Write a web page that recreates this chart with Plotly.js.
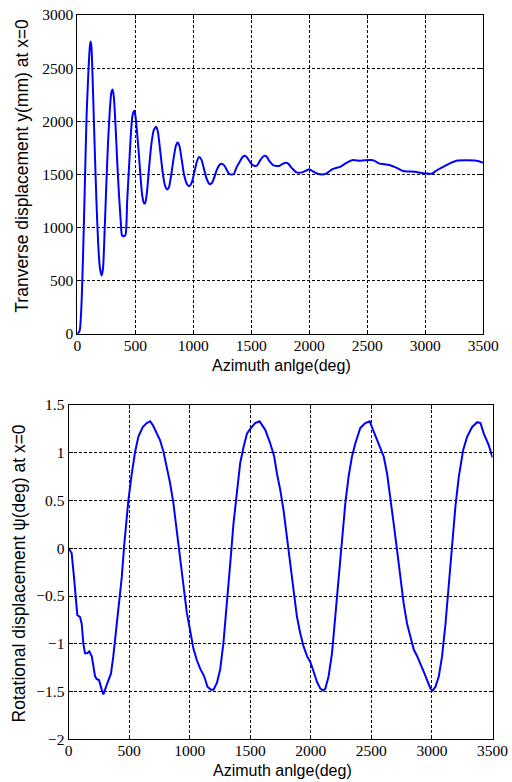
<!DOCTYPE html>
<html>
<head>
<meta charset="utf-8">
<script src="https://cdn.plot.ly/plotly-3.0.1.min.js"></script>
<style>
html,body{margin:0;padding:0;background:#fff;}
#chart{width:512px;height:782px;}
</style>
</head>
<body>
<div id="chart"></div>
<script>
// Top panel: transverse displacement y(mm) at x=0
const azimuthTop = [0,20,35,50,65,80,95,108,115,122,135,150,165,180,195,210,222,235,250,265,280,295,305,315,330,345,360,375,385,400,415,430,445,460,475,490,500,515,530,545,560,575,585,600,620,640,660,680,695,715,735,755,775,790,810,830,850,865,880,900,920,945,965,985,1005,1030,1050,1070,1090,1115,1140,1160,1180,1205,1230,1250,1270,1290,1310,1330,1350,1370,1400,1430,1450,1470,1500,1530,1550,1580,1610,1630,1660,1690,1740,1770,1800,1820,1850,1890,1940,1970,2000,2030,2080,2140,2200,2270,2320,2370,2440,2530,2560,2600,2690,2750,2810,2910,2980,3060,3100,3160,3220,3270,3440,3500];
const transverse = [0,30,250,750,1400,2050,2450,2700,2750,2700,2300,1750,1250,850,620,550,620,950,1400,1800,2100,2280,2300,2230,1950,1600,1300,1050,930,920,930,1250,1550,1850,2050,2100,2060,1900,1700,1480,1300,1230,1230,1330,1580,1800,1920,1950,1900,1720,1530,1400,1360,1380,1500,1650,1770,1800,1770,1640,1500,1410,1390,1420,1500,1620,1665,1640,1560,1460,1410,1420,1470,1550,1595,1600,1580,1540,1505,1500,1505,1560,1620,1670,1675,1650,1600,1580,1585,1640,1675,1670,1620,1585,1580,1600,1610,1600,1560,1520,1520,1535,1550,1530,1505,1505,1550,1575,1610,1635,1630,1636,1630,1605,1590,1565,1533,1526,1512,1510,1540,1575,1610,1630,1630,1612];

// Bottom panel: rotational displacement psi(deg) at x=0
const azimuthBottom = [0,26,45,62,73,95,109,122,136,155,172,192,219,233,252,274,288,310,329,351,370,393,417,440,459,475,494,522,550,577,613,646,674,696,729,756,784,811,839,866,894,921,949,977,1004,1031,1059,1087,1120,1147,1175,1197,1225,1252,1279,1307,1335,1362,1390,1417,1445,1473,1500,1541,1577,1624,1665,1698,1721,1748,1775,1803,1831,1858,1886,1913,1941,1969,1996,2023,2051,2079,2101,2120,2147,2175,2202,2230,2258,2285,2312,2340,2368,2409,2450,2486,2514,2560,2602,2630,2657,2684,2712,2740,2767,2795,2822,2850,2878,2911,2938,2966,2988,3007,3029,3057,3084,3112,3139,3167,3194,3222,3258,3291,3332,3374,3401,3428,3469,3500];
const rotational = [0,-0.05,-0.30,-0.61,-0.70,-0.72,-0.79,-0.99,-1.10,-1.10,-1.08,-1.13,-1.34,-1.37,-1.38,-1.48,-1.53,-1.45,-1.38,-1.31,-1.13,-0.86,-0.61,-0.30,0.02,0.26,0.50,0.78,1.01,1.17,1.27,1.31,1.33,1.29,1.20,1.13,1.01,0.85,0.68,0.47,0.19,-0.09,-0.40,-0.68,-0.86,-1.05,-1.17,-1.26,-1.34,-1.45,-1.48,-1.48,-1.41,-1.27,-0.99,-0.61,-0.16,0.26,0.61,0.89,1.06,1.20,1.25,1.31,1.33,1.24,1.10,0.96,0.78,0.61,0.40,0.12,-0.16,-0.44,-0.72,-0.89,-1.03,-1.13,-1.19,-1.29,-1.40,-1.47,-1.49,-1.47,-1.34,-1.10,-0.72,-0.30,0.12,0.47,0.75,0.96,1.10,1.26,1.31,1.33,1.24,1.10,0.96,0.78,0.54,0.26,-0.02,-0.30,-0.58,-0.79,-0.93,-1.06,-1.13,-1.22,-1.31,-1.40,-1.47,-1.49,-1.45,-1.34,-1.13,-0.79,-0.37,0.05,0.44,0.75,1.03,1.17,1.27,1.32,1.31,1.20,1.08,0.95];

const xTitle = 'Azimuth anlge(deg)';
const yTitleTop = 'Tranverse displacement y(mm) at x=0';
const yTitleBottom = 'Rotational displacement \u03c8(deg) at x=0';

const W = 512, H = 782;
const tickFont = {family: '"Liberation Serif", "Times New Roman", serif', size: 15.5, color: '#000'};
const titleFont = {family: '"Liberation Sans", Arial, sans-serif', size: 16, color: '#000'};
const yTitleFont = {family: '"Liberation Sans", Arial, sans-serif', size: 17.5, color: '#000'};

function axisBase(extra) {
  return Object.assign({
    showgrid: true, gridcolor: '#000', gridwidth: 1, griddash: '3px,2px',
    showline: true, linecolor: '#000', linewidth: 1, mirror: 'ticks',
    ticks: 'inside', ticklen: 4, tickcolor: '#000', tickwidth: 1,
    tickfont: tickFont, zeroline: false, automargin: false, fixedrange: true
  }, extra);
}

const traces = [
  {x: azimuthTop, y: transverse, xaxis: 'x', yaxis: 'y', type: 'scatter', mode: 'lines',
   line: {color: '#0000ff', width: 2, shape: 'spline', smoothing: 0.6}, hoverinfo: 'skip'},
  {x: azimuthBottom, y: rotational, xaxis: 'x2', yaxis: 'y2', type: 'scatter', mode: 'lines',
   line: {color: '#0000ff', width: 2}, hoverinfo: 'skip'}
];

const layout = {
  width: W, height: H,
  margin: {l: 0, r: 0, t: 0, b: 0},
  paper_bgcolor: '#fff', plot_bgcolor: '#fff',
  showlegend: false,
  xaxis: axisBase({domain: [77.3 / W, 483.3 / W], range: [0, 3500], tick0: 0, dtick: 500, anchor: 'y', ticklabelstandoff: -3}),
  yaxis: axisBase({domain: [1 - 334 / H, 1 - 15 / H], range: [0, 3000], tick0: 0, dtick: 500, anchor: 'x'}),
  xaxis2: axisBase({domain: [68.5 / W, 492.5 / W], range: [0, 3500], tick0: 0, dtick: 500, anchor: 'y2', ticklabelstandoff: -3}),
  yaxis2: axisBase({domain: [1 - 739.3 / H, 1 - 405 / H], range: [-2, 1.5], tick0: 0, dtick: 0.5, anchor: 'x2'}),
  annotations: [
    {text: xTitle, xref: 'paper', yref: 'paper', x: 281.5 / W, y: 1 - 365 / H, showarrow: false, font: titleFont, xanchor: 'center', yanchor: 'middle'},
    {text: xTitle, xref: 'paper', yref: 'paper', x: 282.5 / W, y: 1 - 770.5 / H, showarrow: false, font: titleFont, xanchor: 'center', yanchor: 'middle'},
    {text: yTitleTop, xref: 'paper', yref: 'paper', x: 21.7 / W, y: 1 - 166 / H, showarrow: false, font: yTitleFont, textangle: -90, xanchor: 'center', yanchor: 'middle'},
    {text: yTitleBottom, xref: 'paper', yref: 'paper', x: 19.4 / W, y: 1 - 573 / H, showarrow: false, font: yTitleFont, textangle: -90, xanchor: 'center', yanchor: 'middle'}
  ]
};

Plotly.newPlot('chart', traces, layout, {staticPlot: true, displayModeBar: false});
</script>
</body>
</html>
